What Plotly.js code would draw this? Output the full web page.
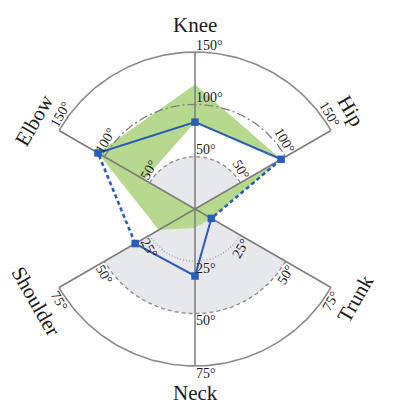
<!DOCTYPE html>
<html><head><meta charset="utf-8">
<script src="https://cdn.plot.ly/plotly-3.0.1.min.js"></script>
<style>html,body{margin:0;padding:0;background:#fff}</style>
</head><body><div id="chart" style="width:414px;height:404px"></div>
<script>
// ---- data ----
const joints = ['Knee', 'Hip', 'Trunk', 'Neck', 'Shoulder', 'Elbow'];
const jointAngle = [0, 60, 120, 180, 240, 300];      // clockwise from top
const jointMax = [150, 150, 75, 75, 75, 150];        // outer arc value per joint
const postureValues = [83, 95, 9, 32, 33, 107];      // measured posture (blue)
const rangeMax = [119, 95, 9, 9, 20, 107];           // green band outer limit
const rangeMin = [83, 95, 0, 0, 0, 56];              // green band inner limit
const upperTicks = [50, 100, 150];
const lowerTicks = [25, 50, 75];
const upperShadeLimit = 50;
const lowerShadeLimit = 50;

// ---- styles ----
const PX = 157; // pixels per unit radius
const CX = 195, CY = 209, W = 414, H = 404;
const serif = '"Liberation Serif", "DejaVu Serif", "Times New Roman", serif';
const blue = '#2a5dba';
const green = '#b6d98e';
const shade = '#e7e8ec';
const axisGray = '#7c7c7c';
const upperTickStyle = {50: {dash: '4px,3px', color: '#8a8a8a'}, 100: {dash: '9px,3px,2px,3px', color: '#7f7f7f'}, 150: {dash: 'solid', color: '#8c8c8c'}};
const lowerTickStyle = {25: {dash: '1px,2px', color: '#a0a0a0'}, 50: {dash: '4px,3px', color: '#8a8a8a'}, 75: {dash: 'solid', color: '#8c8c8c'}};
const nameTangent = [0, 7, -3, 0, 0, -3];

const rad = d => d * Math.PI / 180;
function pt(i, v) {
  const u = v / jointMax[i], a = rad(jointAngle[i]);
  return [u * Math.sin(a), u * Math.cos(a)];
}
function arc(a0, a1, u) {
  const xs = [], ys = [];
  for (let d = a0; d <= a1 + 1e-9; d += 1) { xs.push(u * Math.sin(rad(d))); ys.push(u * Math.cos(rad(d))); }
  return [xs, ys];
}
const traces = [];
function line(xs, ys, color, width, dash, extra) {
  traces.push(Object.assign({type: 'scatter', mode: 'lines', x: xs, y: ys, line: {color, width, dash}, hoverinfo: 'skip', showlegend: false}, extra || {}));
}

// gray shaded sectors
[[-60, 60, upperShadeLimit / 150], [120, 240, lowerShadeLimit / 75]].forEach(([a0, a1, u]) => {
  const [xs, ys] = arc(a0, a1, u);
  traces.push({type: 'scatter', mode: 'lines', x: [0, ...xs, 0], y: [0, ...ys, 0], fill: 'toself', fillcolor: shade, line: {width: 0, color: shade}, hoverinfo: 'skip', showlegend: false});
});

// green band (outer clockwise, inner counter-clockwise -> hole)
{
  const outer = joints.map((_, i) => pt(i, rangeMax[i]));
  const inner = joints.map((_, i) => pt(i, rangeMin[i]));
  const pts = [...outer, outer[0], inner[0], ...inner.slice(1).reverse(), inner[0]];
  traces.push({type: 'scatter', mode: 'lines', x: pts.map(p => p[0]), y: pts.map(p => p[1]), fill: 'toself', fillcolor: green, line: {width: 0, color: green}, hoverinfo: 'skip', showlegend: false});
}

// grid arcs
upperTicks.forEach(t => { const [xs, ys] = arc(-60, 60, t / 150); const s = upperTickStyle[t]; line(xs, ys, s.color, t === 150 ? 1.6 : 1.3, s.dash); });
lowerTicks.forEach(t => { const [xs, ys] = arc(120, 240, t / 75); const s = lowerTickStyle[t]; line(xs, ys, s.color, t === 75 ? 1.6 : 1.3, s.dash); });

// axis spokes
joints.forEach((_, i) => { const p = pt(i, jointMax[i]); line([0, p[0]], [0, p[1]], axisGray, 1.5, 'solid'); });

// posture lines
const P = joints.map((_, i) => pt(i, postureValues[i]));
const idx = n => joints.indexOf(n);
const solidChains = [['Elbow', 'Knee', 'Hip'], ['Trunk', 'Neck', 'Shoulder']];
const dashedPairs = [['Hip', 'Trunk'], ['Shoulder', 'Elbow']];
solidChains.forEach(c => line(c.map(n => P[idx(n)][0]), c.map(n => P[idx(n)][1]), blue, 2, 'solid'));
dashedPairs.forEach(c => line(c.map(n => P[idx(n)][0]), c.map(n => P[idx(n)][1]), blue, 2.6, '4px,3px'));
traces.push({type: 'scatter', mode: 'markers', x: P.map(p => p[0]), y: P.map(p => p[1]), marker: {symbol: 'square', size: 7.5, color: blue}, hoverinfo: 'skip', showlegend: false});

// annotations
const annotations = [];
const side = [1, -1, 1, -1, -1, 1]; // +1 clockwise tangent, -1 counter-clockwise
function rot(a) { return a <= 90 ? a : (a < 270 ? a - 180 : a - 360); }
function addText(i, u, text, size, radialOff, tangOff) {
  const a = rad(jointAngle[i]);
  const s = side[i];
  const dx = radialOff * Math.sin(a) + tangOff * s * Math.cos(a);
  const dyDown = -radialOff * Math.cos(a) + tangOff * s * Math.sin(a);
  annotations.push({x: u * Math.sin(a), y: u * Math.cos(a), xref: 'x', yref: 'y', text, showarrow: false,
    xanchor: 'center', yanchor: 'middle', xshift: dx, yshift: -dyDown, textangle: rot(jointAngle[i]),
    font: {family: serif, size, color: '#1a1a1a'}});
}
const tickSize = 14;
joints.forEach((name, i) => {
  const ticks = jointMax[i] === 150 ? upperTicks : lowerTicks;
  ticks.forEach(t => {
    const label = t + '°';
    const hw = ((String(t).length) * 0.5 + 0.4) * tickSize / 2;
    addText(i, t / jointMax[i], label, tickSize, 7, 1.5 + hw);
  });
  addText(i, 1, name, 21, 27, nameTangent[i]);
});

const layout = {
  width: W, height: H, margin: {l: 0, r: 0, t: 0, b: 0},
  paper_bgcolor: '#fff', plot_bgcolor: '#fff', showlegend: false,
  xaxis: {range: [-CX / PX, (W - CX) / PX], visible: false, fixedrange: true},
  yaxis: {range: [-(H - CY) / PX, CY / PX], visible: false, fixedrange: true},
  annotations
};
Plotly.newPlot('chart', traces, layout, {staticPlot: true, displayModeBar: false});
</script></body></html>
